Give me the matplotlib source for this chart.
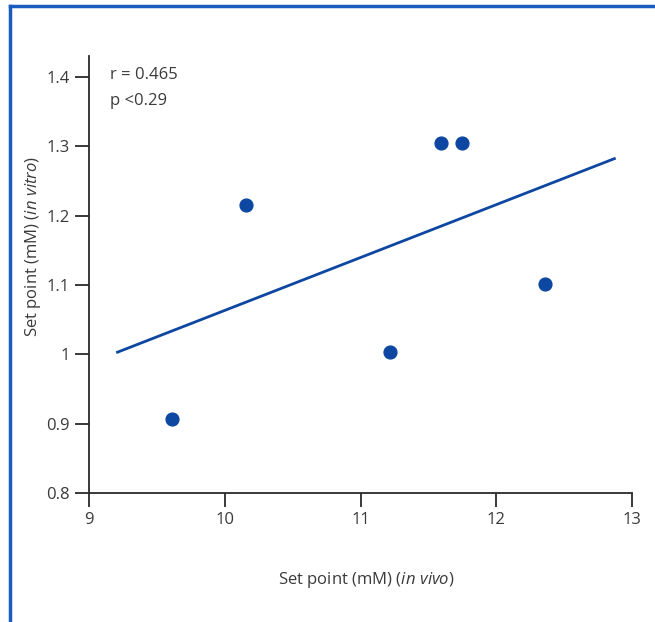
import matplotlib.pyplot as plt
from matplotlib.lines import Line2D

plt.rcParams['font.family'] = ['Open Sans', 'DejaVu Sans']
plt.rcParams['mathtext.fontset'] = 'custom'
plt.rcParams['mathtext.rm'] = 'Open Sans'
plt.rcParams['mathtext.it'] = 'Open Sans:italic'

# in vivo vs in vitro set points (mM)
set_point_in_vivo = [9.61, 10.16, 11.22, 11.59, 11.75, 12.36]
set_point_in_vitro = [0.907, 1.215, 1.003, 1.305, 1.305, 1.101]

# regression line end points
fit_x = [9.21, 12.87]
fit_y = [1.003, 1.282]

x_ticks = [9, 10, 11, 12, 13]
y_ticks = [0.8, 0.9, 1.0, 1.1, 1.2, 1.3, 1.4]
y_tick_labels = ['0.8', '0.9', '1', '1.1', '1.2', '1.3', '1.4']

blue = '#0d47a1'
axis_color = '#2a2a2a'
text_color = '#3a3a3a'

fig = plt.figure(figsize=(6.55, 6.22), dpi=100)
ax = fig.add_axes([0.1359, 0.2074, 0.829, 0.7026])

ax.plot(fit_x, fit_y, color=blue, lw=2)
ax.scatter(set_point_in_vivo, set_point_in_vitro, s=85, color=blue, zorder=3)

ax.set_xlim(9, 13)
ax.set_ylim(0.8, 1.43)
ax.set_xticks(x_ticks)
ax.set_yticks(y_ticks)
ax.set_yticklabels(y_tick_labels)

for side in ['top', 'right']:
    ax.spines[side].set_visible(False)
for side in ['left', 'bottom']:
    ax.spines[side].set_color(axis_color)
    ax.spines[side].set_linewidth(1.3)
ax.tick_params(direction='out', length=10, width=1.3, color=axis_color,
               labelsize=12, labelcolor=text_color, pad=4)

ax.set_xlabel('Set point (mM) ($\\it{in\\ vivo}$)', fontsize=12, color=text_color)
ax.set_ylabel('Set point (mM) ($\\it{in\\ vitro}$)', fontsize=12, color=text_color)
ax.xaxis.set_label_coords(0.511, -0.199)
ax.xaxis.label.set_va('center')
ax.yaxis.set_label_coords(-0.103, 0.565)
ax.yaxis.label.set_va('center')

ax.text(0.039, 0.957, 'r = 0.465', transform=ax.transAxes, fontsize=12, color=text_color, va='center')
ax.text(0.039, 0.897, 'p <0.29', transform=ax.transAxes, fontsize=12, color=text_color, va='center')

# frame around the figure (left and top edges)
fig.add_artist(Line2D([9.5 / 655, 9.5 / 655], [0, 1 - 5.5 / 622], color='#1a5bbf', lw=2.5,
                      transform=fig.transFigure))
fig.add_artist(Line2D([9.5 / 655, 1], [1 - 5.5 / 622, 1 - 5.5 / 622], color='#1a5bbf', lw=2.5,
                      transform=fig.transFigure))

fig.savefig('out.png', dpi=100)
